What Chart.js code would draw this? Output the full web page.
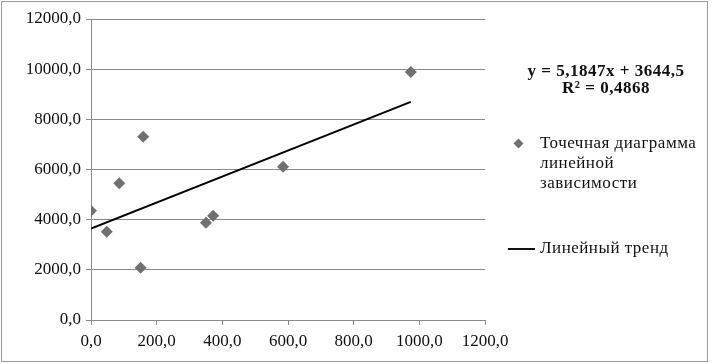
<!DOCTYPE html>
<html>
<head>
<meta charset="utf-8">
<script src="https://cdn.jsdelivr.net/npm/chart.js@4"></script>
<style>
  body { margin: 0; background: #fff; }
  #wrap { position: relative; width: 712px; height: 364px; overflow: hidden; }
  #frame { position: absolute; left: 1px; top: 1px; width: 707px; height: 361px; box-sizing: border-box; border: 1px solid #9a9a9a; }
  canvas { position: absolute; left: 0; top: 0; }
  .txt { position: absolute; font-family: "Liberation Serif", "Times New Roman", serif; color: #111; white-space: nowrap; letter-spacing: 0.5px; }
  #eq { left: 498px; top: 62px; width: 216px; text-align: center; font-weight: bold; font-size: 17px; line-height: 17px; }
  #lg1 { left: 540px; top: 133px; font-size: 17px; line-height: 20px; }
  #dia { position: absolute; left: 515px; top: 140px; width: 7px; height: 7px; background: #707070; transform: rotate(45deg); }
  #ln { position: absolute; left: 508px; top: 248px; width: 27px; height: 2px; background: #111; }
  #lg2 { left: 540px; top: 238px; font-size: 17px; line-height: 20px; }
</style>
</head>
<body>
<div id="wrap">
  <canvas id="myChart" width="712" height="364"></canvas>
  <div id="frame"></div>
  <div class="txt" id="eq">y = 5,1847x + 3644,5<br>R² = 0,4868</div>
  <div id="dia"></div>
  <div class="txt" id="lg1">Точечная диаграмма<br>линейной<br>зависимости</div>
  <div id="ln"></div>
  <div class="txt" id="lg2">Линейный тренд</div>
</div>
<script>
// точки диаграммы
const xValues = [0, 48, 86, 151, 159, 350, 372, 585, 974];
const yValues = [4360, 3520, 5450, 2085, 7310, 3880, 4160, 6110, 9890];
// линия тренда (из уравнения на графике)
const trendSlope = 5.1847;
const trendIntercept = 3644.5;
const xTicks = [0, 200, 400, 600, 800, 1000, 1200];
const yTicks = [0, 2000, 4000, 6000, 8000, 10000, 12000];

const fmt = v => Number(v).toFixed(1).replace('.', ',');
const points = xValues.map((x, i) => ({ x: x, y: yValues[i] }));
const xMin = Math.min(...xValues), xMax = Math.max(...xValues);
const trend = [xMin, xMax].map(x => ({ x: x, y: trendSlope * x + trendIntercept }));

const font = { family: '"Liberation Serif", "Times New Roman", serif', size: 17 };

new Chart(document.getElementById('myChart').getContext('2d'), {
  type: 'scatter',
  data: {
    datasets: [{
      label: 'Точечная диаграмма линейной зависимости',
      data: points,
      pointStyle: 'rectRot',
      pointRadius: 6,
      pointHoverRadius: 6,
      backgroundColor: '#707070',
      borderColor: '#707070',
      borderWidth: 0
    }, {
      type: 'line',
      label: 'Линейный тренд',
      data: trend,
      borderColor: '#000',
      borderWidth: 2,
      pointRadius: 0,
      fill: false
    }]
  },
  options: {
    responsive: false,
    animation: false,
    layout: { padding: { left: 0, right: 227, top: 19, bottom: 0 } },
    plugins: { legend: { display: false }, tooltip: { enabled: false } },
    scales: {
      x: {
        type: 'linear', min: 0, max: 1200,
        afterBuildTicks: s => { s.ticks = xTicks.map(v => ({ value: v })); },
        afterFit: s => { s.height = 44; },
        grid: { drawOnChartArea: false, drawTicks: true, tickLength: 5, color: '#8a8a8a' },
        border: { display: true, color: '#8a8a8a', width: 1 },
        ticks: { font: font, color: '#111', padding: 6, maxRotation: 0, callback: fmt }
      },
      y: {
        type: 'linear', min: 0, max: 12000,
        afterBuildTicks: s => { s.ticks = yTicks.map(v => ({ value: v })); },
        afterFit: s => { s.width = 91; },
        grid: { drawOnChartArea: true, drawTicks: true, tickLength: 5, color: '#8a8a8a' },
        border: { display: true, color: '#8a8a8a', width: 1 },
        ticks: { font: font, color: '#111', padding: 5, callback: fmt }
      }
    }
  }
});
</script>
</body>
</html>
